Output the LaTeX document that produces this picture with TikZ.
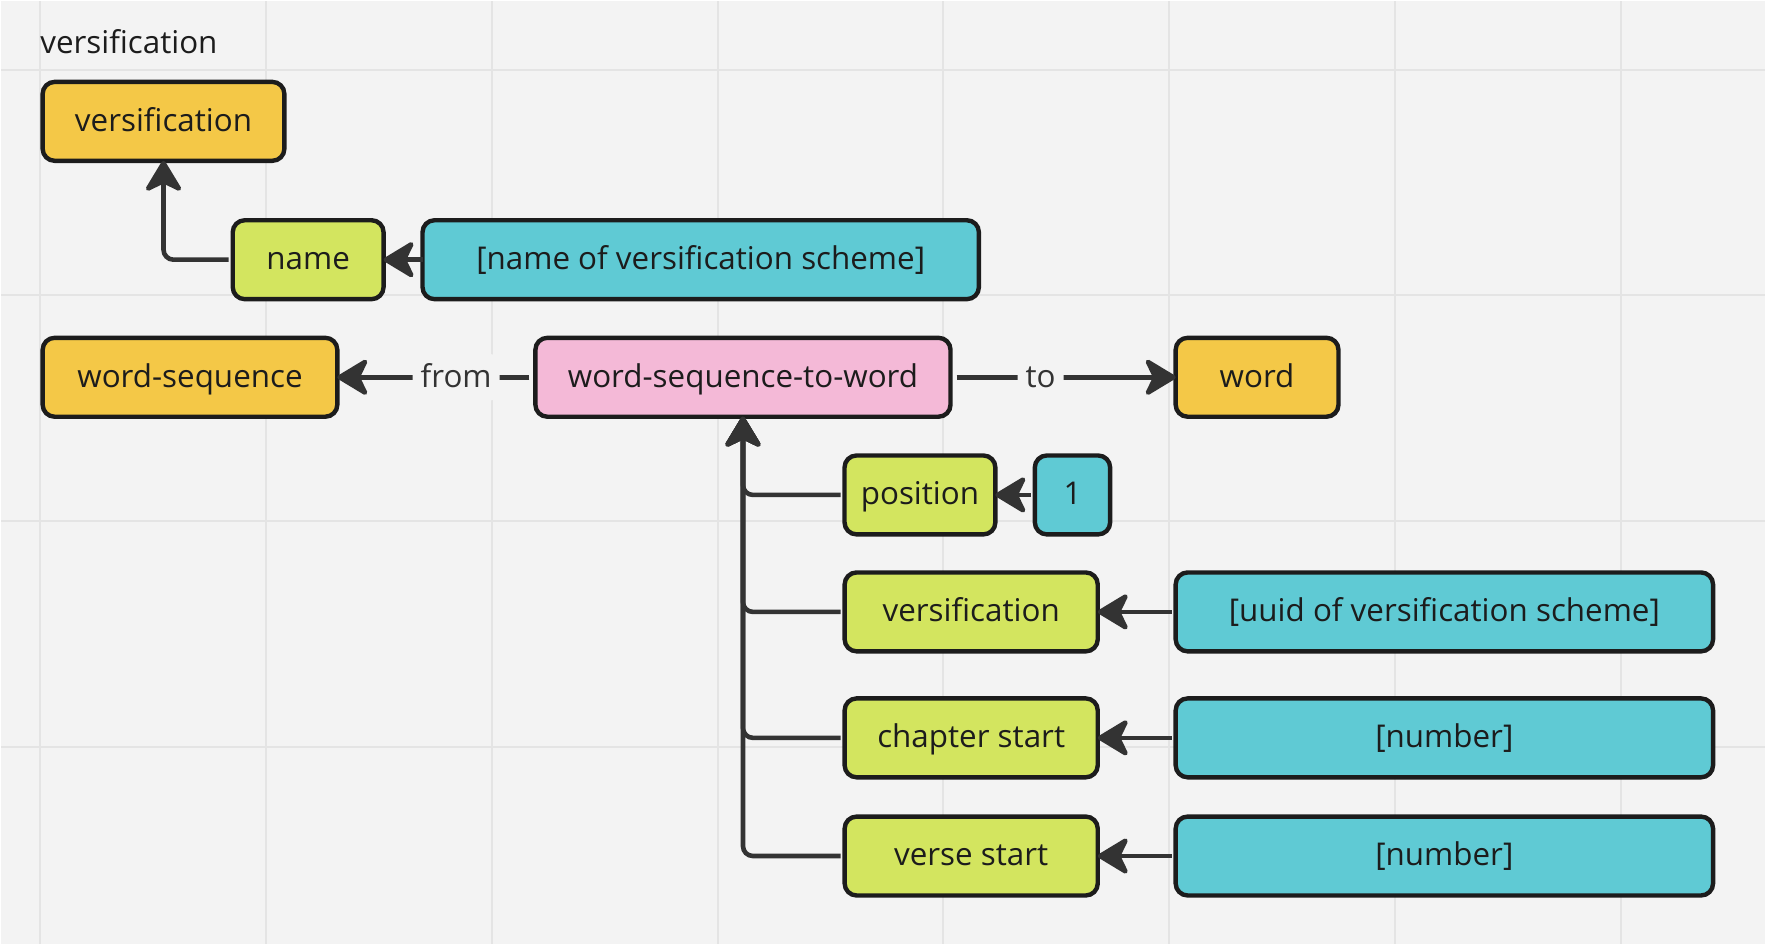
\documentclass[tikz,border=0pt]{standalone}
\usepackage{fontspec}
\setmainfont{Open Sans}
\usepackage{tikz}
\usetikzlibrary{arrows.meta}
\definecolor{cBg}{HTML}{F3F3F3}
\definecolor{cGrid}{HTML}{E4E4E4}
\definecolor{cLine}{HTML}{333333}
\definecolor{cEdge}{HTML}{1C1C1C}
\definecolor{cEnt}{HTML}{F4C847}
\definecolor{cAttr}{HTML}{D3E55F}
\definecolor{cVal}{HTML}{5FCAD4}
\definecolor{cRel}{HTML}{F4B9D7}

\begin{document}
\begin{tikzpicture}[x=0.5pt, y=-0.5pt,
    every node/.style={inner sep=0pt, outer sep=0pt, text=cEdge,
                       font=\fontsize{15.7pt}{19pt}\selectfont},
    box/.style  ={draw=cEdge, line width=2.2pt, rounded corners=6pt,
                  minimum height=39.5pt, align=center,
                  text height=12.6pt, text depth=2.8pt},
    ent/.style  ={box, fill=cEnt},
    attr/.style ={box, fill=cAttr},
    val/.style  ={box, fill=cVal},
    rel/.style  ={box, fill=cRel},
    lbl/.style  ={fill=cBg, inner sep=4pt, text=cLine,
                  text height=12.6pt, text depth=2.8pt},
    ar/.style   ={-{Stealth[length=17.5pt,width=21pt,inset=5pt,round]}, draw=cLine,
                  line width=2.3pt, rounded corners=5pt}]

\def\AX{162.7}  \def\BX{742.8}  \def\GX{971.3}  \def\CX{1445}   % column centres

% ── canvas ──────────────────────────────────────────────────────────────
\fill[cBg] (0,0) rectangle (1766,944);
\foreach \gx in {0,...,7} \draw[cGrid, line width=1pt] (39.4+226*\gx,0) -- (39.4+226*\gx,944);
\foreach \gy in {0,...,3} \draw[cGrid, line width=1pt] (0,68.7+226*\gy) -- (1766,68.7+226*\gy);

\node[anchor=west] (title) at (39.4,40.5) {versification};

% ── versification entity ────────────────────────────────────────────────
\node[ent,  minimum width=121pt]   (vers)    at (\AX,120.5) {versification};
\node[attr, minimum width=75.5pt]  (name)    at (307.5,259) {name};
\node[val,  minimum width=278.5pt] (nameval) at (700.5,259) {[name of versification scheme]};

% ── relation row ────────────────────────────────────────────────────────
\node[ent,  minimum width=147.5pt] (wseq) at (189.2,376.7) {word-sequence};
\node[rel,  minimum width=207.8pt] (ws2w) at (\BX,376.7)   {word-sequence-to-word};
\node[ent,  minimum width=81.5pt]  (word) at (1257.5,376.7) {word};

% ── relation attributes ─────────────────────────────────────────────────
\node[attr, minimum width=75.5pt]  (pos)   at (920,494.5)    {position};
\node[val,  minimum width=37.7pt]  (one)   at (1072.7,494.5) {1};
\node[attr, minimum width=126.7pt] (vsch)  at (\GX,611.6)    {versification};
\node[val,  minimum width=269pt]   (uuid)  at (\CX,611.6)    {[uuid of versification scheme]};
\node[attr, minimum width=126.7pt] (chap)  at (\GX,737.7)    {chapter start};
\node[val,  minimum width=269pt]   (numc)  at (\CX,737.7)    {[number]};
\node[attr, minimum width=126.7pt] (verse) at (\GX,856)      {verse start};
\node[val,  minimum width=269pt]   (numv)  at (\CX,856)      {[number]};

% ── arrows ──────────────────────────────────────────────────────────────
\draw[ar, shorten <=2pt] (name.west) -| (vers.south);
\draw[ar] (nameval.west) -- (name.east);
\draw[ar, shorten <=3pt] (ws2w.west) -- node[lbl, pos=0.4] {from} (wseq.east);
\draw[ar, shorten <=3pt] (ws2w.east) -- node[lbl, pos=0.4] {to} (word.west);
\foreach \att in {pos,vsch,chap,verse}
  \draw[ar, shorten <=2pt] (\att.west) -| (ws2w.south);
\draw[ar, shorten <=2pt] (one.west)  -- (pos.east);
\draw[ar, shorten <=2pt] (uuid.west) -- (vsch.east);
\draw[ar, shorten <=2pt] (numc.west) -- (chap.east);
\draw[ar, shorten <=2pt] (numv.west) -- (verse.east);
\end{tikzpicture}
\end{document}
